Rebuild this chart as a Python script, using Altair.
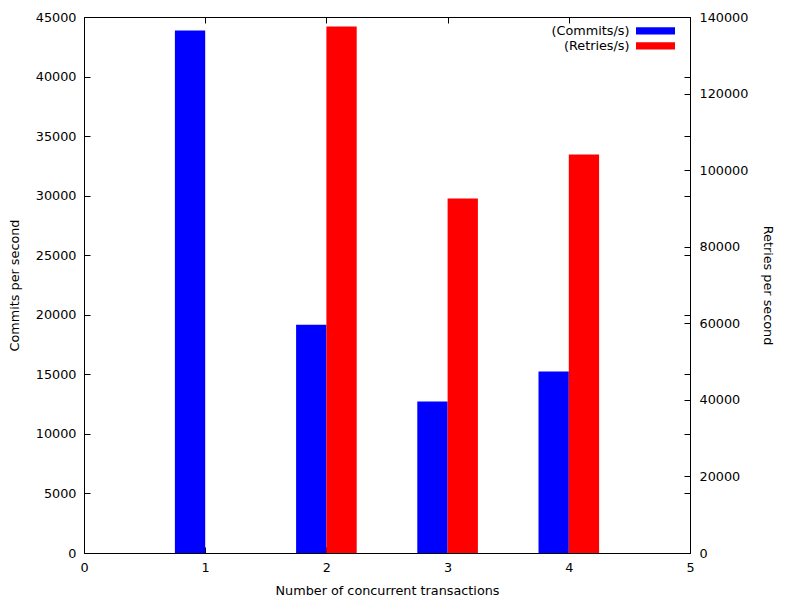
import altair as alt
import pandas as pd

transactions = [1, 2, 3, 4]
commits_per_sec = [43870, 19170, 12710, 15230]
retries_per_sec = [0, 137500, 92600, 104100]
series_names = ["(Commits/s)", "(Retries/s)"]
series_colors = ["#0000ff", "#ff0000"]
x_ticks = [0, 1, 2, 3, 4, 5]
y1_ticks = [0, 5000, 10000, 15000, 20000, 25000, 30000, 35000, 40000, 45000]
y2_ticks = [0, 20000, 40000, 60000, 80000, 100000, 120000, 140000]
bar_width = 0.25

df = pd.DataFrame({"n": transactions, "commits": commits_per_sec, "retries": retries_per_sec})
df["c_lo"] = df["n"] - bar_width
df["r_hi"] = df["n"] + bar_width
df["c_name"] = series_names[0]
df["r_name"] = series_names[1]

FONT = "DejaVu Sans"
FS = 12.8
TICK = 6
INWARD = {"expr": "-6"}

x_scale = alt.Scale(domain=[0, 5], nice=False, zero=False)
y1_scale = alt.Scale(domain=[0, 45000], nice=False)
y2_scale = alt.Scale(domain=[0, 140000], nice=False)
color_scale = alt.Scale(domain=series_names, range=series_colors)

legend = alt.Legend(
    title=None,
    orient="none",
    legendX=565,
    legendY=7.3,
    symbolType="M-3,-0.56L3,-0.56L3,0.56L-3,0.56Z",
    symbolSize=169,
    symbolStrokeWidth=0,
    symbolOpacity=1,
    labelAlign="right",
    labelOffset={"expr": "-32.5"},
    labelFont=FONT,
    labelFontSize=FS,
    labelColor="black",
    rowPadding=1,
    padding=0,
)

common_axis = dict(labelFlush=False, labelOverlap=False, offset=INWARD, tickSize=TICK)

blue = alt.Chart(df).mark_rect(opacity=1).encode(
    x=alt.X("c_lo:Q", scale=x_scale,
            axis=alt.Axis(orient="bottom", values=x_ticks, format="d", labelPadding=8,
                          title="Number of concurrent transactions", titlePadding=11, **common_axis)),
    x2="n:Q",
    y=alt.Y("commits:Q", scale=y1_scale,
            axis=alt.Axis(orient="left", values=y1_ticks, format="d", labelPadding=8,
                          title="Commits per second", titlePadding=14, **common_axis)),
    y2=alt.datum(0),
    color=alt.Color("c_name:N", scale=color_scale, legend=legend),
)

red = alt.Chart(df).mark_rect(opacity=1).encode(
    x=alt.X("n:Q", scale=x_scale,
            axis=alt.Axis(orient="top", values=x_ticks, labels=False, title=None, **common_axis)),
    x2="r_hi:Q",
    y=alt.Y("retries:Q", scale=y2_scale,
            axis=alt.Axis(orient="right", values=y2_ticks, format="d", labelPadding=9,
                          title="Retries per second", titlePadding=13, **common_axis)),
    y2=alt.datum(0),
    color=alt.Color("r_name:N", scale=color_scale, legend=legend),
)

mirror = alt.Chart(df).mark_rect(opacity=0).encode(
    x=alt.X("c_lo:Q", scale=x_scale, axis=None),
    x2="n:Q",
    y=alt.Y("commits:Q", scale=y1_scale,
            axis=alt.Axis(orient="right", values=y1_ticks, labels=False, title=None, **common_axis)),
    y2=alt.datum(0),
)

chart = alt.layer(blue, red, mirror).resolve_scale(
    y="independent", color="shared"
).resolve_axis(
    x="independent", y="independent"
).properties(
    width=606,
    height=536,
    autosize=alt.AutoSizeParams(type="none"),
    padding={"left": 76, "top": 9, "right": 102, "bottom": 44},
    background="white",
).configure_view(
    stroke="black", strokeWidth=1
).configure_axis(
    grid=False, domain=False, labelFont=FONT, labelFontSize=FS, labelColor="black",
    titleFont=FONT, titleFontSize=FS, titleFontWeight="normal", titleColor="black",
    tickColor="black", tickWidth=1,
)

chart.save("out.html", embed_options={"renderer": "svg", "actions": False})
